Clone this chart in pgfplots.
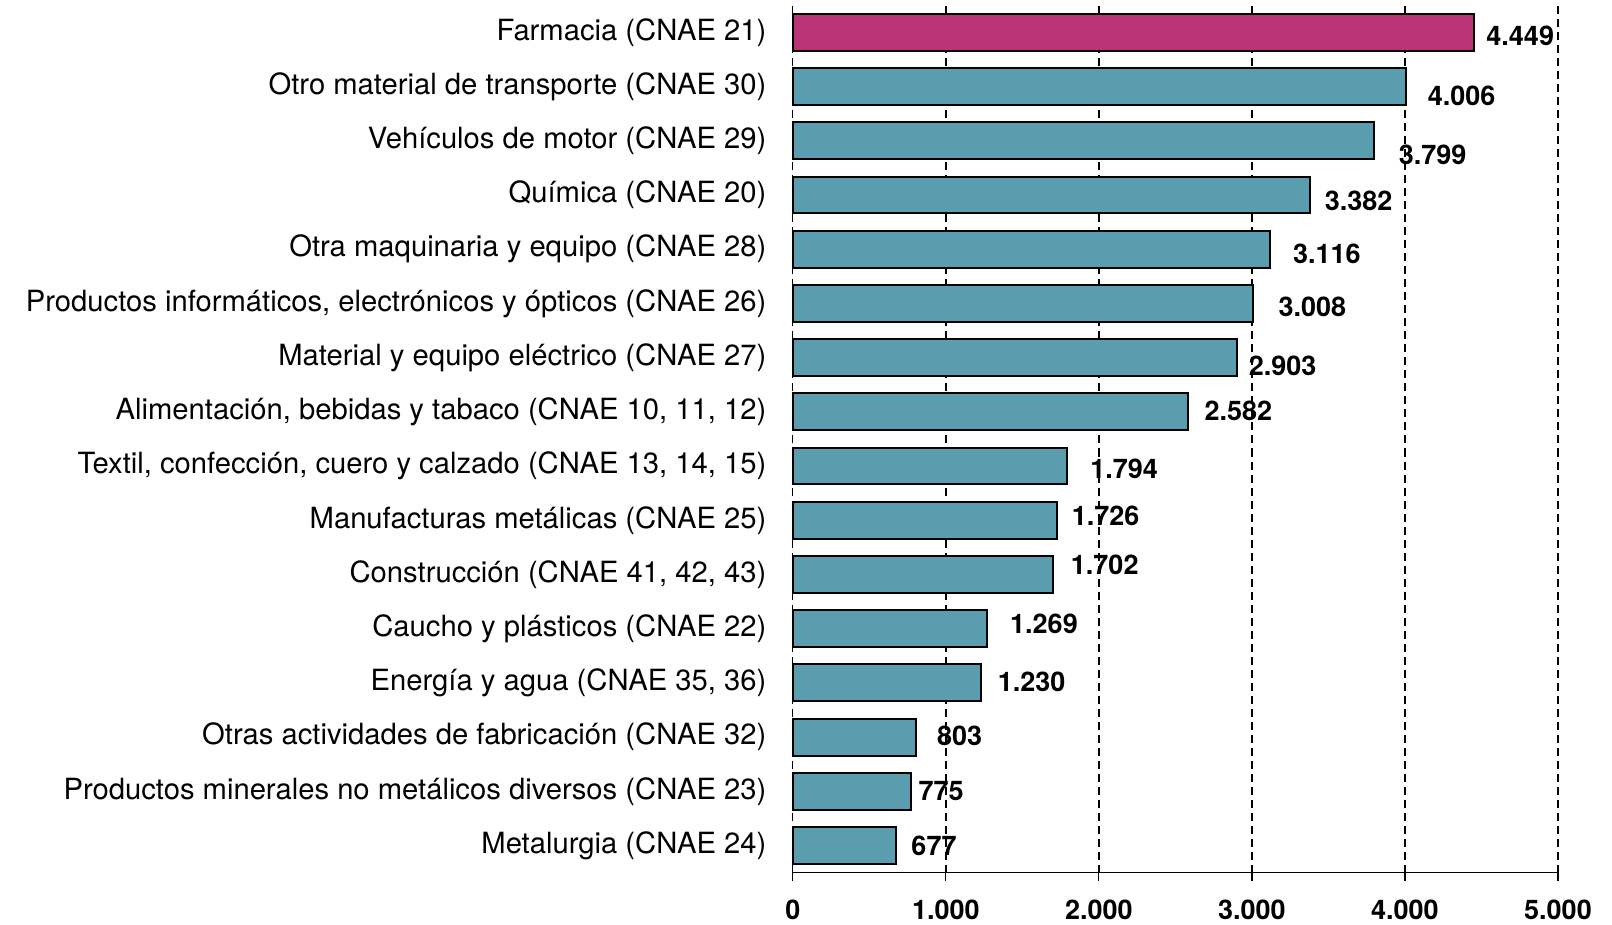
\documentclass[border=0pt]{standalone}
\usepackage{pgfplots}
\usepackage{pgfplotstable}
\pgfplotsset{compat=1.18}
\usepackage{fontspec}
\setmainfont{TeX Gyre Heros}

\definecolor{barteal}{RGB}{90,157,175}
\definecolor{barmag}{RGB}{184,52,118}

% idx: 0 = bottom bar; lx/ly = where the value label starts
\pgfplotstableread{
idx val  lx   ly    lab
0   677  773  0.00  677
1   775  820  1.00  775
2   803  941  2.02  803
3   1230 1337 3.02  1.230
4   1269 1418 4.08  1.269
5   1702 1815 5.17  1.702
6   1726 1821 6.08  1.726
7   1794 1942 6.94  1.794
8   2582 2688 8.02  2.582
9   2903 2977 8.85  2.903
10  3008 3172 9.94  3.008
11  3116 3266 10.91 3.116
12  3382 3474 11.89 3.382
13  3799 3958 12.74 3.799
14  4006 4147 13.83 4.006
}\rest

\pgfplotstableread{
idx val  lx   ly    lab
15  4449 4530 14.94 4.449
}\farma

\begin{document}
\begin{tikzpicture}
\begin{axis}[
  at={(0,0)}, anchor=south west,
  scale only axis,
  width=382.5pt, height=433.6pt,
  xmin=0, xmax=5000,
  ymin=-0.5, ymax=15.5,
  axis x line*=bottom,
  axis y line*=left,
  y axis line style={draw=none},
  x axis line style={line width=0.6pt},
  xtick={0,1000,2000,3000,4000,5000},
  xticklabels={0,1.000,2.000,3.000,4.000,5.000},
  xtick align=outside,
  major tick length=4pt,
  xtick style={line width=0.6pt, black},
  xticklabel style={font=\fontsize{13.5}{16}\selectfont\bfseries, yshift=-6pt},
  ytick={0,...,15},
  yticklabels={
    Metalurgia (CNAE 24),
    Productos minerales no metálicos diversos (CNAE 23),
    Otras actividades de fabricación (CNAE 32),
    {Energía y agua (CNAE 35, 36)},
    Caucho y plásticos (CNAE 22),
    {Construcción (CNAE 41, 42, 43)},
    Manufacturas metálicas (CNAE 25),
    {Textil, confección, cuero y calzado (CNAE 13, 14, 15)},
    {Alimentación, bebidas y tabaco (CNAE 10, 11, 12)},
    Material y equipo eléctrico (CNAE 27),
    {Productos informáticos, electrónicos y ópticos (CNAE 26)},
    Otra maquinaria y equipo (CNAE 28),
    Química (CNAE 20),
    Vehículos de motor (CNAE 29),
    Otro material de transporte (CNAE 30),
    Farmacia (CNAE 21)},
  ytick style={draw=none},
  yticklabel style={font=\fontsize{14.6}{17}\selectfont, anchor=east, inner sep=0pt, xshift=-13pt},
  xmajorgrids,
  grid style={black, line width=0.7pt, dash pattern=on 4pt off 2.5pt},
  clip=false,
]
\addplot[xbar, bar width=0.68, bar shift=0pt, fill=barteal, draw=black, line width=1pt]
  table[x=val, y=idx] {\rest};
\addplot[xbar, bar width=0.68, bar shift=0pt, fill=barmag, draw=black, line width=1pt]
  table[x=val, y=idx] {\farma};
\addplot[draw=none, mark=none, nodes near coords, point meta=explicit symbolic,
  every node near coord/.style={anchor=west, inner sep=0pt, font=\fontsize{13.5}{16}\selectfont\bfseries}]
  table[x=lx, y=ly, meta=lab] {\rest};
\addplot[draw=none, mark=none, nodes near coords, point meta=explicit symbolic,
  every node near coord/.style={anchor=west, inner sep=0pt, font=\fontsize{13.5}{16}\selectfont\bfseries}]
  table[x=lx, y=ly, meta=lab] {\farma};
\end{axis}
\pgfresetboundingbox
\path (-396.3pt,-25.9pt) rectangle (409.5pt,436.2pt);
\end{tikzpicture}
\end{document}
